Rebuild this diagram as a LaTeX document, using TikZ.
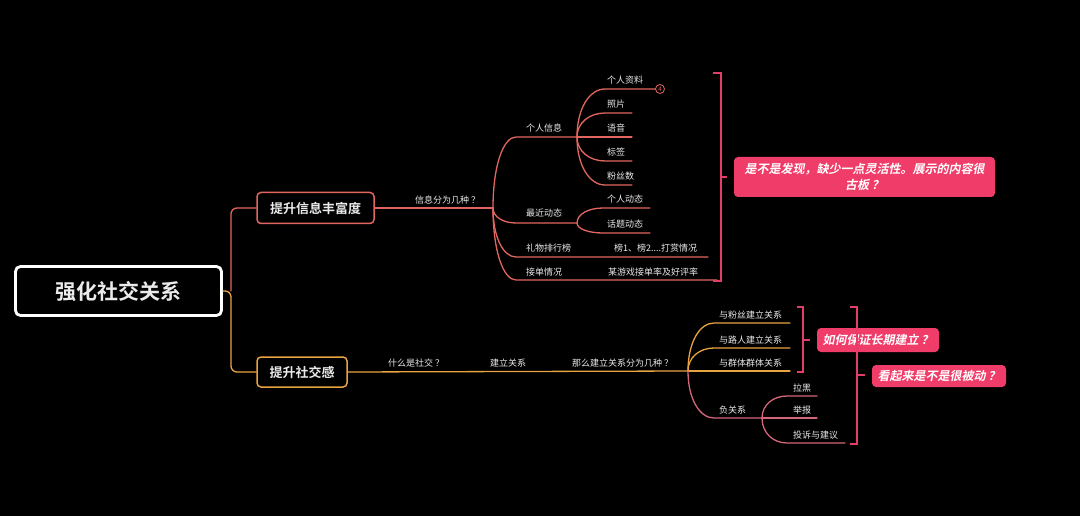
\documentclass[tikz,border=0pt]{standalone}
\usepackage{fontspec}
\setmainfont{Noto Sans CJK SC}[BoldFont={Noto Sans CJK SC Bold}]
\newfontfamily\calloutfont[FakeSlant=0.2]{Noto Sans CJK SC Bold}
\usetikzlibrary{positioning,calc}

\definecolor{salmon}{HTML}{E2665E}
\definecolor{amber}{HTML}{E9A33F}
\definecolor{rose}{HTML}{E33D6C}
\definecolor{rosefill}{HTML}{F03C68}
\definecolor{mauve}{HTML}{D5667A}
\definecolor{txt}{HTML}{EAEAEA}

% rounded branch from a hub to the start of a leaf line
\newcommand{\twig}[3][salmon]{%
  \draw[branch,#1] (#2) .. controls ($(#2)!0.6!(#2 |- #3)$) and ($(#2 |- #3)!0.45!(#3)$) .. (#3)}

\begin{document}
\begin{tikzpicture}[x=1pt,y=-1pt,
    every node/.style={text=txt,inner sep=1pt},
    leaf/.style={anchor=west,font=\fontsize{9}{11}\selectfont},
    branch/.style={line width=1.3pt,line cap=round},
    topic/.style={
      draw,
      rounded corners=4pt,
      line width=1.5pt,
      fill=black,
      font=\bfseries\fontsize{13}{15}\selectfont
    },
    callout/.style={
      fill=rosefill,
      rounded corners=4pt,
      text=white,
      align=center,
      font=\calloutfont\fontsize{12}{16}\selectfont
    },
    bracket/.style={draw=rose,line width=1.5pt}
  ]
  \fill[black] (0,0) rectangle (1080,516);
  \useasboundingbox (0,0) rectangle (1080,516);

  % Root topic
  \node[
    draw=white,
    line width=2.8pt,
    rounded corners=5pt,
    minimum width=206pt,
    minimum height=49pt,
    font=\bfseries\fontsize{21}{24}\selectfont
  ] (root) at (118.5,291) {强化社交关系};

  % Main topics
  \node[topic,draw=salmon,minimum width=117pt,minimum height=31pt] (info) at (315.5,208) {提升信息丰富度};
  \node[topic,draw=amber,minimum width=90pt,minimum height=30pt] (social) at (302,372) {提升社交感};

  \coordinate (fork) at (231,291);
  \draw[branch,amber,rounded corners=6pt] (root.east) -- (fork) |- (social.west);
  \draw[branch,salmon,rounded corners=6pt] (fork) |- (info.west);

  % Upper branch: information
  \coordinate (hubI) at (493,208);
  \draw[branch,salmon] (info.east) -- (hubI);
  \node[leaf] (askI) at (414,200) {信息分为几种 ？};

  \coordinate (hubP) at (577,137);
  \coordinate (hubR) at (577,223);
  \coordinate (pinfoS) at (516,137);
  \coordinate (recentS) at (516,223);
  \coordinate (giftS) at (516,257);
  \coordinate (giftE) at (708,257);
  \coordinate (orderS) at (516,280);
  \coordinate (orderE) at (717,280);
  \twig{hubI}{pinfoS} -- (hubP);
  \twig{hubI}{recentS} -- (hubR);
  \twig{hubI}{giftS} -- (giftE);
  \twig{hubI}{orderS} -- (orderE);
  \node[leaf] (pinfo) at (525,128) {个人信息};
  \node[leaf] (recent) at (525,213) {最近动态};
  \node[leaf] (gift) at (525,248) {礼物排行榜};
  \node[leaf] (giftD) at (613,248) {榜1、榜2....打赏情况};
  \node[leaf] (order) at (525,272) {接单情况};
  \node[leaf] (orderD) at (607,272) {某游戏接单率及好评率};

  % personal info leaves
  \node[circle,draw=salmon,line width=0.8pt,inner sep=0pt,minimum size=9pt,
    text=salmon,font=\fontsize{6}{6}\selectfont] (badge) at (660,89) {4};
  \foreach \nm/\ty/\lab/\tx in {pa/89/个人资料/655.5,pb/113/照片/632,pc/137/语音/632,pd/161/标签/632,pe/185/粉丝数/632} {
    \coordinate (\nm s) at (605,\ty);
    \coordinate (\nm e) at (\tx,\ty);
    \node[leaf] (\nm) at (606,\ty-9) {\lab};
    \twig{hubP}{\nm s} -- (\nm e);
  }

  % recent activity leaves
  \foreach \nm/\ty/\lab in {ra/208/个人动态,rb/233/话题动态} {
    \coordinate (\nm s) at (603,\ty);
    \coordinate (\nm e) at (650,\ty);
    \node[leaf] (\nm) at (606,\ty-9) {\lab};
    \twig{hubR}{\nm s} -- (\nm e);
  }

  % Bracket and remark 1
  \draw[bracket] (713,73) -- (721,73) -- (721,281) -- (713,281);
  \draw[bracket] (721,177) -- (727,177);
  \node[callout,minimum width=261pt,minimum height=40pt] (remA) at (864.5,177)
    {是不是发现，缺少一点灵活性。展示的内容很\\古板 ？};

  % Lower branch: social feeling
  \coordinate (hubS) at (688,371);
  \draw[branch,amber] (social.east) -- (hubS);
  \node[leaf] (askS) at (387,363) {什么是社交 ？};
  \node[leaf] (build) at (489,363) {建立关系};
  \node[leaf] (kinds) at (571,363) {那么建立关系分为几种 ？};

  \foreach \nm/\ty/\lab in {fa/323/与粉丝建立关系,fb/348/与路人建立关系} {
    \coordinate (\nm s) at (714,\ty);
    \coordinate (\nm e) at (790,\ty);
    \node[leaf] (\nm) at (718,\ty-8) {\lab};
    \twig[amber]{hubS}{\nm s} -- (\nm e);
  }
  \coordinate (fce) at (790,371);
  \node[leaf] (fc) at (718,363) {与群体群体关系};
  \draw[branch,amber] (hubS) -- (fce);

  \coordinate (negS) at (714,418);
  \coordinate (hubN) at (762,418);
  \twig[mauve]{hubS}{negS} -- (hubN);
  \node[leaf] (neg) at (718,410) {负关系};

  \foreach \nm/\ty/\lab/\tx in {na/396/拉黑/817,nb/418/举报/817,nc/443/投诉与建议/845} {
    \coordinate (\nm s) at (787,\ty);
    \coordinate (\nm e) at (\tx,\ty);
    \node[leaf] (\nm) at (792,\ty-8) {\lab};
    \twig[mauve]{hubN}{\nm s} -- (\nm e);
  }

  % Brackets and remarks 2, 3
  \draw[bracket] (797,307) -- (803,307) -- (803,372) -- (797,372);
  \draw[bracket] (803,340) -- (810,340);
  \node[callout,minimum width=122pt,minimum height=24pt] (remB) at (878,340) {如何保证长期建立 ？};

  \draw[bracket] (850,307) -- (857,307) -- (857,444) -- (850,444);
  \draw[bracket] (857,375) -- (865,375);
  \node[callout,minimum width=134pt,minimum height=22pt] (remC) at (939,376) {看起来是不是很被动 ？};
\end{tikzpicture}
\end{document}
